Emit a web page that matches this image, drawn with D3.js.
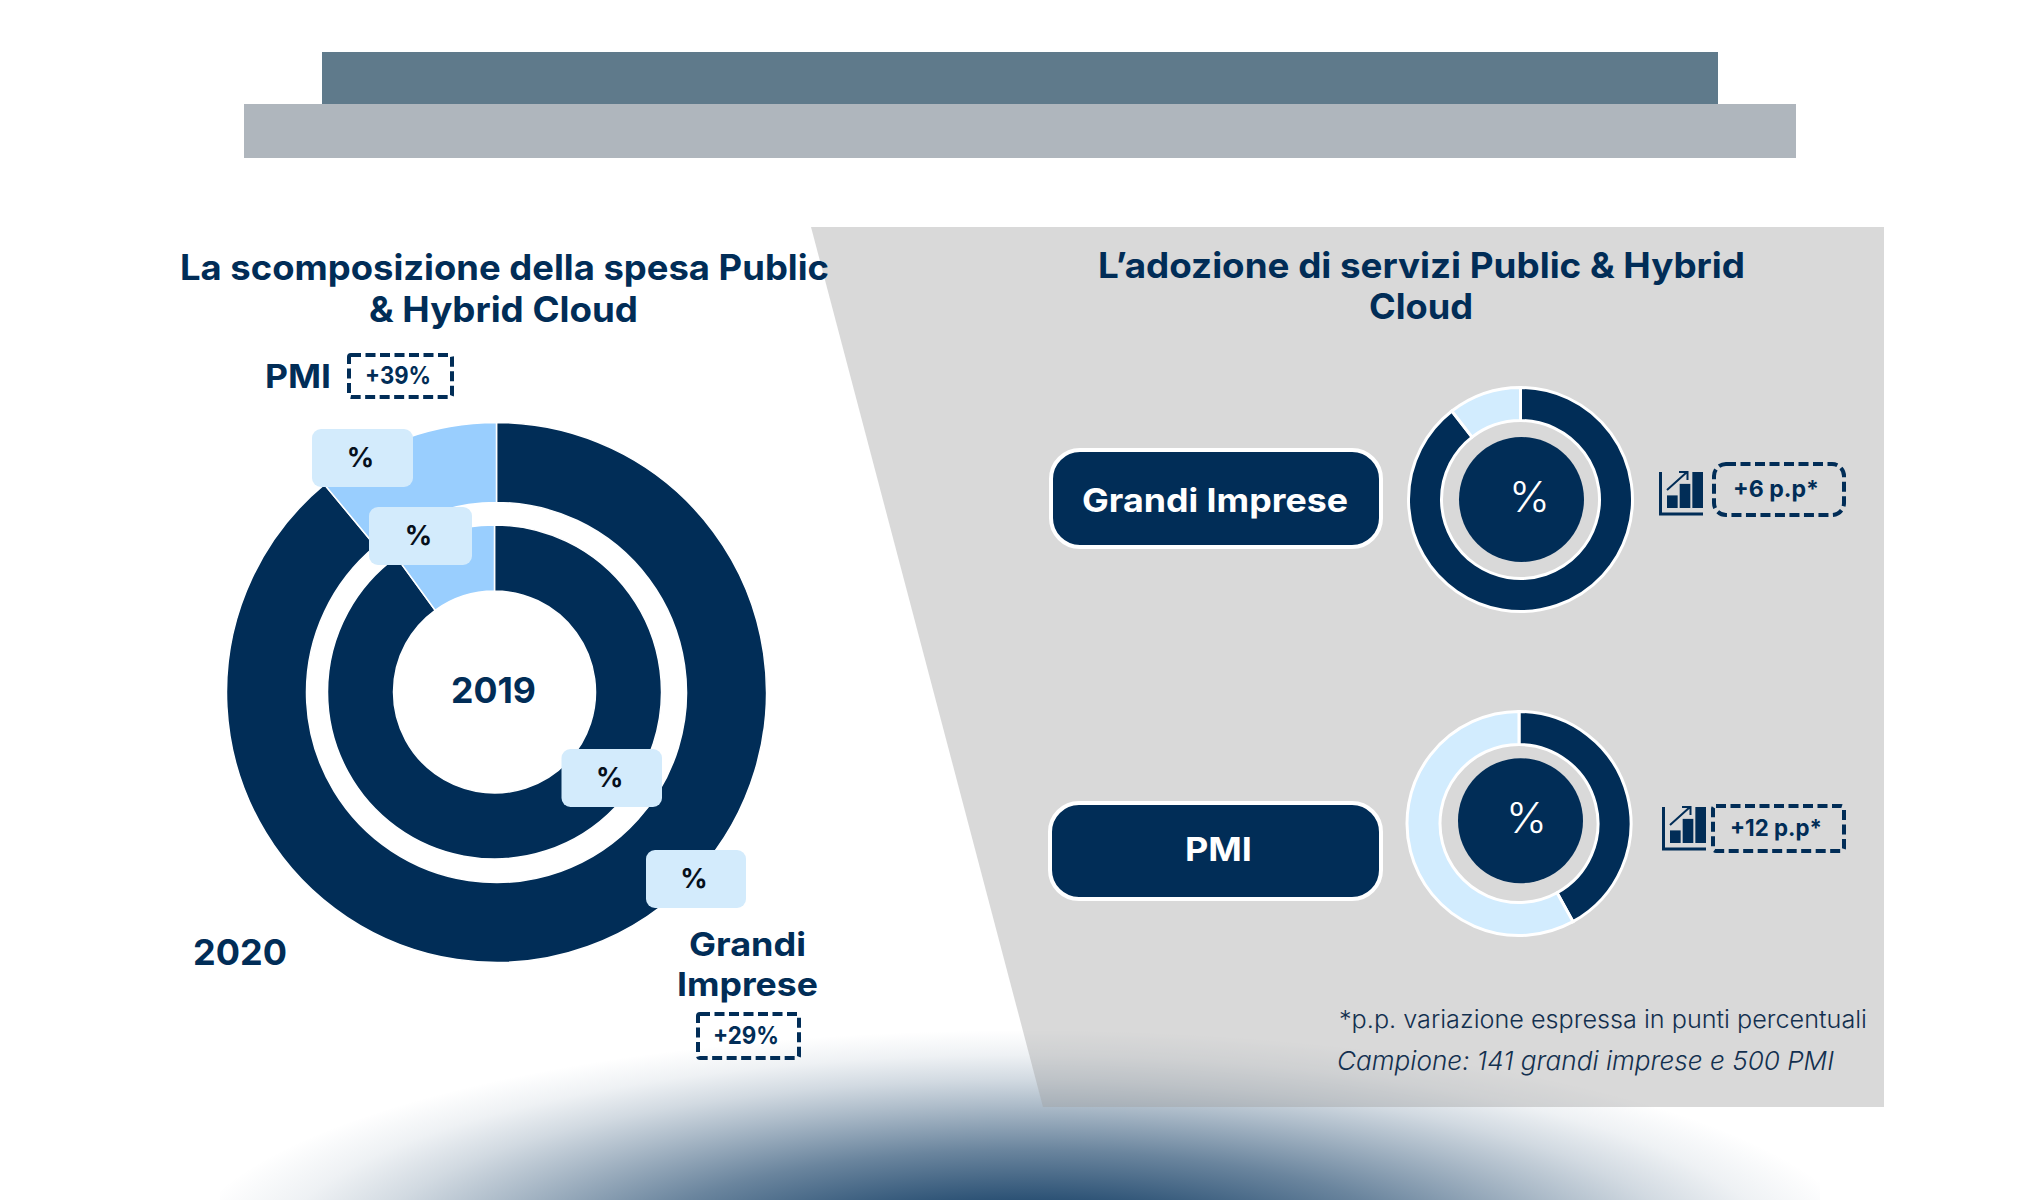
<!DOCTYPE html>
<html><head><meta charset="utf-8">
<script src="https://cdn.jsdelivr.net/npm/d3@7"></script>
<style>html,body{margin:0;padding:0;background:#fff}svg{display:block}text{font-family:Inter,"Open Sans",sans-serif}</style>
</head><body>
<svg id="c" width="2040" height="1200"></svg>
<script>
// ---- data (the source hides its numbers) ----
const spendCategories = ["Grandi Imprese", "PMI"];
const spend2020 = [89, 11];
const spend2019 = [90, 10];
const adoptionCategories = ["Public & Hybrid", "Altro"];
const adoptionGrandi = [89.5, 10.5];
const adoptionPMI = [42, 58];
const growthLabels = ["+39%", "+29%", "+6 p.p*", "+12 p.p*"];
const iconBars = [0.35, 0.67, 1];

// ---- palette ----
const navy = "#012d57", sky = "#99cefe", pale = "#d3ebfc", paleRing = "#d2ecfe";

const svg = d3.select("#c");
const defs = svg.append("defs");
const grad = defs.append("radialGradient").attr("id","glow").attr("gradientUnits","userSpaceOnUse")
  .attr("cx",0).attr("cy",0).attr("r",1)
  .attr("gradientTransform","translate(1025 1260) scale(920 250)");
[[0,1],[.24,.88],[.44,.62],[.62,.34],[.72,.19],[.82,.07],[.92,0]].forEach(([o,a])=>
  grad.append("stop").attr("offset",o).attr("stop-color","#0f3a62").attr("stop-opacity",a));

// header bands
const rect=(x0,y0,x1,y1,fill)=>svg.append("rect").attr("x",x0).attr("y",y0).attr("width",x1-x0).attr("height",y1-y0).attr("fill",fill);
rect(322,52,1718,104,"#5f7a8b");
rect(244,104,1796,158,"#afb6bd");

// bottom glow sits behind the translucent panel
svg.append("rect").attr("x",220).attr("y",960).attr("width",1600).attr("height",240).attr("fill","url(#glow)");

// right panel
svg.append("path").attr("d",d3.line()([[811,227],[1884,227],[1884,1107],[1043,1107]])+"Z").attr("fill","#a0a0a0").attr("fill-opacity",.4);

// text helper: fits between x0 and x1 on a given baseline
function label(str,x0,x1,y,size,weight,fill,style){
  return svg.append("text").attr("x",x0).attr("y",y).attr("font-size",size).attr("font-weight",weight)
    .attr("fill",fill).attr("font-style",style||"normal")
    .attr("textLength",x1-x0).attr("lengthAdjust","spacingAndGlyphs").text(str);
}

// donuts
const pie = d3.pie().sort(null).value(d=>d);
function donut(values,cx,cy,r0,r1,colors,stroke,sw){
  const arc = d3.arc().innerRadius(r0).outerRadius(r1);
  svg.append("g").attr("transform",`translate(${cx},${cy})`)
    .selectAll("path").data(pie(values)).join("path")
    .attr("d",arc).attr("fill",(d,i)=>colors[i]).attr("stroke",stroke).attr("stroke-width",sw);
}
donut(spend2020,496.5,692.5,190,270,[navy,sky],"#fff",1.5);
donut(spend2019,494.5,692,101,167,[navy,sky],"#fff",1.5);
donut(adoptionGrandi,1520.5,499.5,79,112,[navy,paleRing],"#fff",3);
donut(adoptionPMI,1519,823.5,79,112,[navy,paleRing],"#fff",3);

// centre discs of right donuts
[[1521.5,499.5],[1520.5,820.7]].forEach(([x,y])=>svg.append("circle").attr("cx",x).attr("cy",y).attr("r",62.5).attr("fill",navy));

// titles
label("La scomposizione della spesa Public",180,829,280,35,700,navy);
label("& Hybrid Cloud",369,638,322,35,700,navy);
label("L\u2019adozione di servizi Public & Hybrid",1098,1745,278,35,700,navy);
label("Cloud",1369,1473,319,35,700,navy);

// callouts with a percent sign
[[312,429,413],[369,507,472],[561.5,749,662],[646,850,746]].forEach(([x0,y0,x1])=>{
  svg.append("rect").attr("x",x0).attr("y",y0).attr("width",x1-x0).attr("height",58).attr("rx",9).attr("fill",pale);
  svg.append("text").attr("x",(x0+x1)/2-2).attr("y",y0+38).attr("text-anchor","middle").attr("font-size",27).attr("font-weight",700).attr("fill","#06101c").text("%");
});

// category / year labels
label(spendCategories[1],265,331,388,33,700,navy);
label("2019",451,536,703,36,700,navy);
label("2020",193,287,965,36,700,navy);
label("Grandi",689,806,956,33,700,navy);
label("Imprese",677,818,996,33,700,navy);

// dashed boxes
function dashed(x0,y0,x1,y1,rx){
  svg.append("rect").attr("x",x0).attr("y",y0).attr("width",x1-x0).attr("height",y1-y0).attr("rx",rx)
    .attr("fill","none").attr("stroke",navy).attr("stroke-width",4).attr("stroke-dasharray","10 4.5");
}
dashed(349,355,452,397,2);
dashed(698,1014,799,1058,2);
dashed(1714,464,1844,515,12);
dashed(1713,806,1844,851,3);
label(growthLabels[0],365,431,384,24,700,navy);
label(growthLabels[1],713,779,1044,24,700,navy);
label(growthLabels[2],1733,1819,497,23,700,navy);
label(growthLabels[3],1730,1822,836,23,700,navy);

// pills
[[1051,450,1381,547],[1050,803,1381,899]].forEach(([x0,y0,x1,y1])=>
  svg.append("rect").attr("x",x0).attr("y",y0).attr("width",x1-x0).attr("height",y1-y0).attr("rx",29)
    .attr("fill",navy).attr("stroke","#fff").attr("stroke-width",4));
label(spendCategories[0],1082,1348,512,33,700,"#fff");
label(spendCategories[1],1185,1252,861,33,700,"#fff");

// centre percent signs
label("%",1509,1550,512,42,300,"#fff");
label("%",1506,1547,833,42,300,"#fff");

// growth icons
function icon(x,y){
  const g=svg.append("g").attr("transform",`translate(${x},${y})`);
  const xs=d3.scaleBand().domain(iconBars.map((d,i)=>i)).range([8,44]).paddingInner(.16);
  const ys=d3.scaleLinear().domain([0,1]).range([36,0]);
  g.selectAll("rect.b").data(iconBars).join("rect").attr("class","b").attr("x",(d,i)=>xs(i)).attr("width",xs.bandwidth())
    .attr("y",d=>ys(d)).attr("height",d=>ys(0)-ys(d)).attr("fill",navy);
  g.append("path").attr("d","M1.5 0V42H44").attr("fill","none").attr("stroke",navy).attr("stroke-width",3);
  g.append("path").attr("d","M8 18L28 0M20 0H28.5V8").attr("fill","none").attr("stroke",navy).attr("stroke-width",2);
}
icon(1659,472);
icon(1662,807);

// notes
label("*p.p. variazione espressa  in punti percentuali",1339,1867,1028,24,300,"#13304f");
label("Campione: 141 grandi imprese e 500 PMI",1337,1834,1070,26,300,"#13304f","italic");
</script>
</body></html>
